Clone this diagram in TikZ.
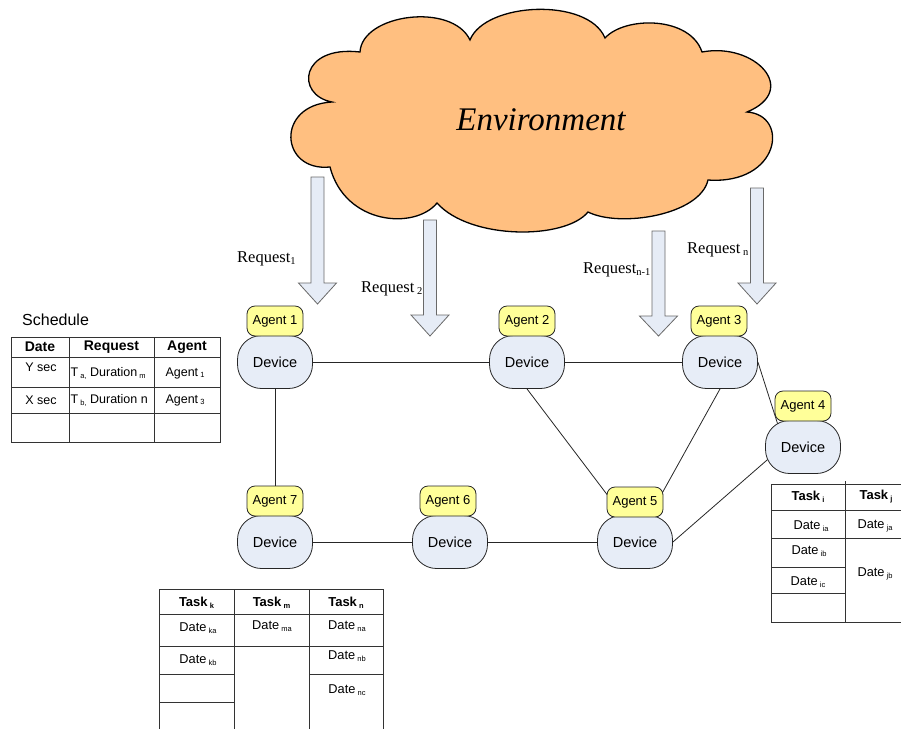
\documentclass[tikz,border=0pt]{standalone}
\usepackage{fontspec}
\setmainfont{Liberation Serif}
\newfontfamily\arial{Liberation Sans}
\definecolor{devfill}{RGB}{231,237,247}
\definecolor{agentfill}{RGB}{255,255,153}
\definecolor{cloudfill}{RGB}{255,191,128}
\definecolor{arrowfill}{RGB}{230,236,246}
\definecolor{arrowdraw}{RGB}{105,105,105}
\newcommand\ssub[1]{\raisebox{-0.3ex}{\fontsize{7.5}{8}\selectfont #1}}
\newcommand\rsub[1]{\raisebox{-0.35ex}{\fontsize{10.5}{12}\selectfont #1}}
\newcommand\blockarr[4]{%
  \draw[barrow] ({#1-6.5},#2) -- ({#1+6.5},#2) -- ({#1+6.5},#3) -- ({#1+19},#3)
    -- (#1,#4) -- ({#1-19},#3) -- ({#1-6.5},#3) -- cycle;}
\pgfdeclarelayer{bg}
\pgfsetlayers{bg,main}
\begin{document}
\begin{tikzpicture}[x=1pt,y=-1pt,
  device/.style={draw=black!85, line width=0.8pt, fill=devfill, rounded corners=24pt,
    minimum width=75pt, minimum height=53pt, inner sep=0pt,
    font=\arial\fontsize{14.5}{17}\selectfont},
  agent/.style={draw=black!85, line width=0.8pt, fill=agentfill, rounded corners=8pt,
    minimum width=56pt, minimum height=30pt, inner sep=0pt,
    font=\arial\fontsize{13}{15}\selectfont},
  link/.style={draw=black!85, line width=0.8pt},
  barrow/.style={draw=arrowdraw, fill=arrowfill, line width=0.8pt},
  reqlabel/.style={font=\fontsize{16.5}{19}\selectfont, inner sep=0pt, anchor=base west},
  tab/.style={draw=black!80, line width=0.8pt},
  cell/.style={font=\arial\fontsize{12.5}{14}\selectfont, inner sep=0pt},
  cellb/.style={font=\arial\fontsize{12.8}{14}\selectfont, inner sep=0pt},
  head/.style={font=\arial\bfseries\fontsize{14}{16}\selectfont, inner sep=0pt},
  headb/.style={font=\arial\bfseries\fontsize{13}{14}\selectfont, inner sep=0pt},
]
\useasboundingbox (0,0) rectangle (901,729);

% cloud
\draw[line width=1.3pt, fill=cloudfill]
  (360,52) .. controls (362,14) and (452,2) .. (470,40)
  .. controls (485,2) and (588,-3) .. (605,38)
  .. controls (625,16) and (690,16) .. (702,52)
  .. controls (755,42) and (800,90) .. (747,112)
  .. controls (790,115) and (780,185) .. (708,180)
  .. controls (700,215) and (620,228) .. (588,212)
  .. controls (565,240) and (470,240) .. (437,203)
  .. controls (415,230) and (345,225) .. (330,167)
  .. controls (280,172) and (275,105) .. (332,102)
  .. controls (295,95) and (300,45) .. (360,52) -- cycle;
\node[font=\itshape\fontsize{33}{38}\selectfont] (env) at (541,120) {Environment};

% request arrows
\blockarr{317.5}{177}{283}{304}
\blockarr{430}{220}{315}{336}
\blockarr{658.5}{231}{316}{336}
\blockarr{757}{188}{283}{304}

\node[reqlabel] (r1) at (237,262) {Request\rsub{1}};
\node[reqlabel] (r2) at (361,292) {Request\,\rsub{2}};
\node[reqlabel] (rn1) at (583,273) {Request\rsub{n-1}};
\node[reqlabel] (rn) at (687,253) {Request\,\rsub{n}};

% devices and agents
\node[device] (D1) at (275,362) {Device};
\node[agent]  (A1) at (275,321) {Agent 1};
\node[device] (D2) at (527,362) {Device};
\node[agent]  (A2) at (527,321) {Agent 2};
\node[device] (D3) at (720,362) {Device};
\node[agent]  (A3) at (719,321) {Agent 3};
\node[device] (D4) at (803,447) {Device};
\node[agent]  (A4) at (803,406) {Agent 4};
\node[device] (D5) at (635,542) {Device};
\node[agent]  (A5) at (635,502) {Agent 5};
\node[device] (D6) at (450,542) {Device};
\node[agent]  (A6) at (448,501) {Agent 6};
\node[device] (D7) at (275,542) {Device};
\node[agent]  (A7) at (275,501) {Agent 7};

\begin{pgfonlayer}{bg}
\draw[link] (D1.center) -- (D2.center);
\draw[link] (D2.center) -- (D3.center);
\draw[link] (D1.center) -- (D7.center);
\draw[link] (D7.center) -- (D6.center);
\draw[link] (D6.center) -- (D5.center);
\draw[link] (D2.south) -- ([xshift=8pt]D5.center);
\draw[link] (D3.south) -- (D5.center);
\draw[link] (D3.east) -- ([xshift=-18pt]D4.center);
\draw[link] (D5.east) -- ([xshift=-21pt]D4.center);
\end{pgfonlayer}

% schedule table
\node[font=\arial\fontsize{16}{18}\selectfont, anchor=west, inner sep=0pt] (schedlbl) at (22,320) {Schedule};
\draw[tab] (11,337) rectangle (220,442);
\draw[tab] (11,357) -- (220,357) (11,387) -- (220,387) (11,413) -- (220,413)
  (69,337) -- (69,442) (154,337) -- (154,442);
\node[head] (sh1) at (40,347) {Date};
\node[head] (sh2) at (111.5,347) {Request};
\node[head] (sh3) at (187,347) {Agent};
\node[cell] (s11) at (41,367) {Y sec};
\node[cell, anchor=west] (s12) at (70.5,373) {T\,\ssub{a,} Duration\,\ssub{m}};
\node[cell] (s13) at (185,373) {Agent\,\ssub{1}};
\node[cell] (s21) at (41,400) {X sec};
\node[cell, anchor=west] (s22) at (70.5,400) {T\,\ssub{b,} Duration n};
\node[cell] (s23) at (185,400) {Agent\,\ssub{3}};

% bottom table
\draw[tab] (159,589) -- (383,589)
  (159,589) -- (159,729) (234,589) -- (234,729) (309,589) -- (309,729) (383,589) -- (383,729)
  (159,614) -- (383,614) (159,646) -- (383,646)
  (159,674) -- (234,674) (309,674) -- (383,674) (159,702) -- (234,702);
\node[headb] (bh1) at (196.5,603) {Task\,\ssub{\bfseries k}};
\node[headb] (bh2) at (271.5,603) {Task\,\ssub{\bfseries m}};
\node[headb] (bh3) at (346,603) {Task\,\ssub{\bfseries n}};
\node[cellb] (b11) at (198,628) {Date\,\ssub{ka}};
\node[cellb] (b21) at (198,660) {Date\,\ssub{kb}};
\node[cellb] (b12) at (272,626) {Date\,\ssub{ma}};
\node[cellb] (b13) at (347,626) {Date\,\ssub{na}};
\node[cellb] (b23) at (347,656) {Date\,\ssub{nb}};
\node[cellb] (b33) at (347,690) {Date\,\ssub{nc}};

% right table
\draw[tab] (771,484) -- (901,484)
  (771,484) -- (771,622) (845,481) -- (845,622)
  (771,510) -- (901,510) (771,538) -- (901,538)
  (771,567) -- (845,567) (771,593) -- (845,593) (771,622) -- (901,622);
\node[headb] (rh1) at (808,497) {Task\,\ssub{\bfseries i}};
\node[headb] (rh2) at (876,497) {Task\,\ssub{\bfseries j}};
\node[cellb] (r11) at (811,526) {Date\,\ssub{ia}};
\node[cellb] (r21) at (809,551) {Date\,\ssub{ib}};
\node[cellb] (r31) at (808,582) {Date\,\ssub{ic}};
\node[cellb] (r12) at (875,526) {Date\,\ssub{ja}};
\node[cellb] (r22) at (875,574) {Date\,\ssub{jb}};
\end{tikzpicture}
\end{document}
